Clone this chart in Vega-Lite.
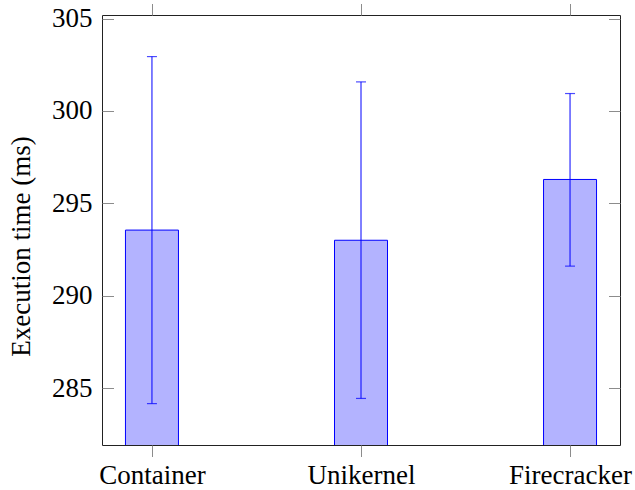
{
  "$schema": "https://vega.github.io/schema/vega-lite/v6.json",
  "autosize": "none",
  "width": 518,
  "height": 430,
  "padding": {"left": 102, "top": 15, "right": 15, "bottom": 45},
  "background": "white",
  "config": {
    "view": {"stroke": "#222222", "strokeWidth": 1},
    "font": "Liberation Serif",
    "axis": {
      "labelFont": "Liberation Serif",
      "titleFont": "Liberation Serif",
      "labelFontSize": 27,
      "titleFontSize": 27,
      "titleFontWeight": "normal",
      "labelColor": "black",
      "titleColor": "black",
      "tickColor": "#8c8c8c",
      "tickWidth": 1,
      "domain": false,
      "grid": false
    }
  },
  "data": {
    "values": [
      {"platform": "Container", "mean": 293.55, "lo": 284.16, "hi": 302.94},
      {"platform": "Unikernel", "mean": 293.0, "lo": 284.44, "hi": 301.57},
      {"platform": "Firecracker", "mean": 296.29, "lo": 291.6, "hi": 300.94}
    ]
  },
  "layer": [
    {
      "mark": {"type": "bar", "size": 53, "fill": "#b3b3ff", "stroke": "#0000ff", "strokeWidth": 1, "clip": true},
      "encoding": {
        "x": {
          "field": "platform",
          "type": "nominal",
          "sort": null,
          "scale": {"type": "point", "padding": 0.239},
          "axis": {"orient": "bottom", "title": null, "labelAngle": 0, "tickSize": 11.5, "labelPadding": 6}
        },
        "y": {
          "field": "mean",
          "type": "quantitative",
          "scale": {"domain": [281.92, 305.19], "nice": false, "zero": false},
          "axis": {
            "orient": "left",
            "title": "Execution time (ms)",
            "values": [285, 290, 295, 300, 305],
            "offset": -11.5,
            "tickSize": 11.5,
            "labelPadding": 10,
            "titlePadding": 16,
            "titleY": 231
          }
        }
      }
    },
    {
      "mark": {"type": "rule", "color": "#0000ff", "strokeWidth": 1},
      "encoding": {
        "x": {
          "field": "platform",
          "type": "nominal",
          "sort": null,
          "axis": {"orient": "top", "title": null, "labels": false, "tickSize": 11.5}
        },
        "y": {
          "field": "lo",
          "type": "quantitative",
          "axis": {
            "orient": "right",
            "title": null,
            "labels": false,
            "values": [285, 290, 295, 300, 305],
            "offset": -11.5,
            "tickSize": 11.5
          }
        },
        "y2": {"field": "hi"}
      }
    },
    {
      "mark": {"type": "tick", "color": "#0000ff", "size": 10, "thickness": 1.2, "orient": "horizontal"},
      "encoding": {
        "x": {"field": "platform", "type": "nominal", "sort": null, "axis": null},
        "y": {"field": "lo", "type": "quantitative", "axis": null}
      }
    },
    {
      "mark": {"type": "tick", "color": "#0000ff", "size": 10, "thickness": 1.2, "orient": "horizontal"},
      "encoding": {
        "x": {"field": "platform", "type": "nominal", "sort": null, "axis": null},
        "y": {"field": "hi", "type": "quantitative", "axis": null}
      }
    }
  ],
  "resolve": {"axis": {"x": "independent", "y": "independent"}}
}
